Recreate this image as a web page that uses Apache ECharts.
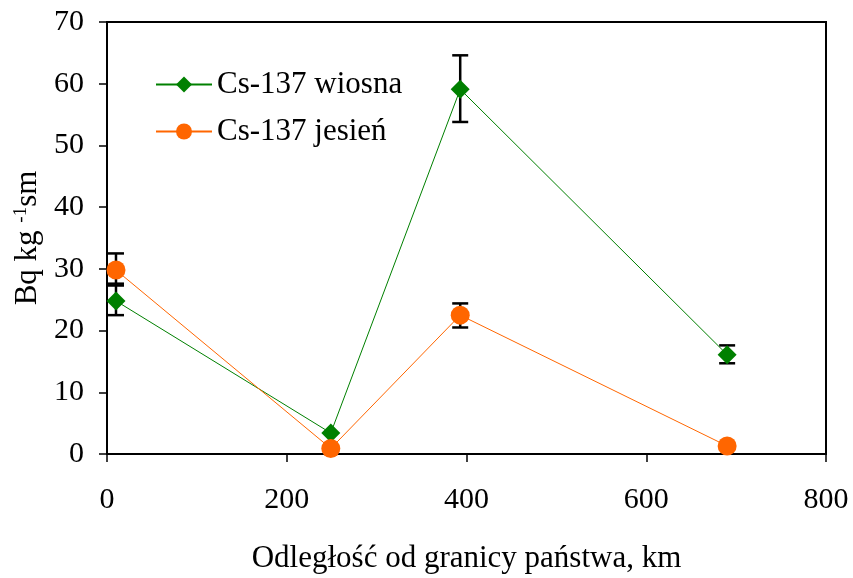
<!DOCTYPE html>
<html>
<head>
<meta charset="utf-8">
<script src="https://cdn.jsdelivr.net/npm/echarts@6/dist/echarts.min.js"></script>
<style>html,body{margin:0;padding:0;background:#fff}#c{width:853px;height:578px}</style>
</head>
<body>
<div id="c"></div>
<script>
var distances = [10, 249, 393, 690];
var wiosna = [24.8, 3.4, 59.1, 16.1];
var wiosnaErrLow = [22.5, 3.4, 53.8, 14.7];
var wiosnaErrHigh = [27.6, 3.4, 64.6, 17.6];
var jesien = [29.8, 0.9, 22.5, 1.3];
var jesienErrLow = [27.3, 0.9, 20.5, 1.3];
var jesienErrHigh = [32.5, 0.9, 24.4, 1.3];
var xTicks = [0, 200, 400, 600, 800];
var yTicks = [0, 10, 20, 30, 40, 50, 60, 70];

var font = '"Liberation Serif", "Times New Roman", serif';

function pairs(xs, ys) { return xs.map(function (x, i) { return [x, ys[i]]; }); }
function errData(xs, lo, hi) { return xs.map(function (x, i) { return [x, lo[i], hi[i]]; }); }

function errRender(params, api) {
  var x = api.value(0), lo = api.value(1), hi = api.value(2);
  if (lo === hi) return null;
  var pLo = api.coord([x, lo]), pHi = api.coord([x, hi]);
  var cap = 8;
  var st = { stroke: '#000', lineWidth: 2.5 };
  return {
    type: 'group',
    children: [
      { type: 'line', shape: { x1: pLo[0], y1: pLo[1], x2: pHi[0], y2: pHi[1] }, style: st },
      { type: 'line', shape: { x1: pLo[0] - cap, y1: pLo[1], x2: pLo[0] + cap, y2: pLo[1] }, style: st },
      { type: 'line', shape: { x1: pHi[0] - cap, y1: pHi[1], x2: pHi[0] + cap, y2: pHi[1] }, style: st }
    ]
  };
}

var chart = echarts.init(document.getElementById('c'), null, { renderer: 'canvas' });
chart.setOption({
  animation: false,
  backgroundColor: '#fff',
  textStyle: { fontFamily: font },
  grid: {
    left: 107, right: 27, top: 22, bottom: 124, show: true, borderColor: '#000', borderWidth: 2,
    backgroundColor: 'transparent', containLabel: false, outerBoundsMode: 'none'
  },
  legend: {
    left: 150, top: 64, orient: 'vertical', itemGap: 16,
    itemWidth: 56, itemHeight: 20,
    textStyle: { fontFamily: font, fontSize: 31, color: '#000' },
    data: ['Cs-137 wiosna', 'Cs-137 jesień']
  },
  xAxis: {
    type: 'value', min: 0, max: 800, interval: 200,
    name: 'Odległość od granicy państwa, km', nameLocation: 'middle', nameGap: 89,
    nameTextStyle: { fontFamily: font, fontSize: 31, color: '#000' },
    axisLine: { lineStyle: { color: '#000', width: 2 } },
    axisTick: { show: true, inside: false, length: 8, lineStyle: { color: '#000', width: 1.5 } },
    axisLabel: { fontFamily: font, fontSize: 30, color: '#000', margin: 31 },
    splitLine: { show: false }
  },
  yAxis: {
    type: 'value', min: 0, max: 70, interval: 10,
    name: 'Bq kg {sup|-1}sm', nameLocation: 'middle', nameGap: 57,
    nameTextStyle: {
      fontFamily: font, fontSize: 31, color: '#000',
      rich: { sup: { fontFamily: font, fontSize: 19, color: '#000', verticalAlign: 'top', padding: [0, 0, 14, 0] } }
    },
    axisLine: { lineStyle: { color: '#000', width: 2 } },
    axisTick: { show: true, inside: false, length: 8, lineStyle: { color: '#000', width: 1.5 } },
    axisLabel: { fontFamily: font, fontSize: 30, color: '#000', margin: 23 },
    splitLine: { show: false }
  },
  series: [
    {
      type: 'custom', renderItem: errRender, data: errData(distances, wiosnaErrLow, wiosnaErrHigh),
      encode: { x: 0, y: [1, 2] }, z: 1, silent: true
    },
    {
      type: 'custom', renderItem: errRender, data: errData(distances, jesienErrLow, jesienErrHigh),
      encode: { x: 0, y: [1, 2] }, z: 1, silent: true
    },
    {
      name: 'Cs-137 wiosna', type: 'line', data: pairs(distances, wiosna), z: 3,
      symbol: 'diamond', symbolSize: 19,
      itemStyle: { color: '#008000' },
      lineStyle: { color: '#008000', width: 1 }
    },
    {
      name: 'Cs-137 jesień', type: 'line', data: pairs(distances, jesien), z: 4,
      symbol: 'circle', symbolSize: 19,
      itemStyle: { color: '#FF6600' },
      lineStyle: { color: '#FF6600', width: 1 }
    }
  ]
});
</script>
</body>
</html>
